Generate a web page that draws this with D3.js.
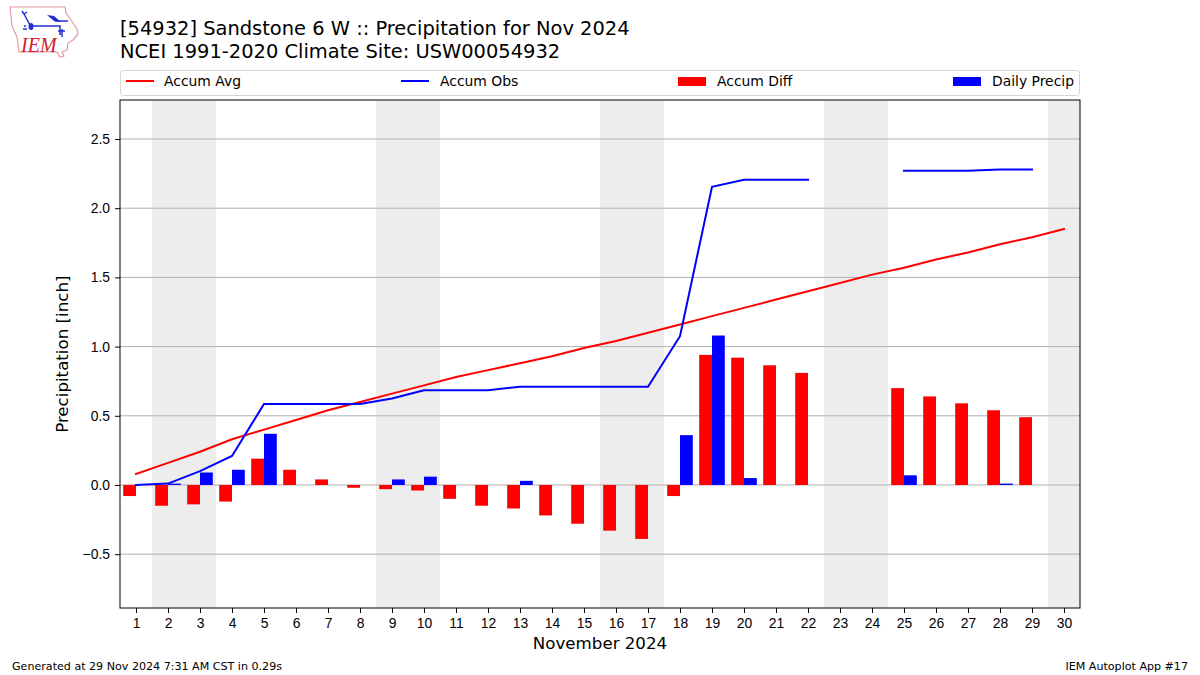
<!DOCTYPE html>
<html>

<head>
    <meta charset="utf-8">
    <style>
        body {
            margin: 0;
            background: #fff;
        }

        svg {
            display: block;
            font-family: 'DejaVu Sans', sans-serif;
        }

        .title {
            font-size: 19.45px;
        }

        .tick text {
            font-size: 13.9px;
            fill: #000;
        }

        .tick line {
            stroke: #000;
        }

        .domain {
            display: none;
        }

        .grid line {
            stroke: #b0b0b0;
            stroke-width: 1;
        }

        .axis-label {
            font-size: 16.67px;
        }

        .legend-text {
            font-size: 13.9px;
        }

        .footer {
            font-size: 11.1px;
        }
    </style>
</head>

<body>
    <svg width="1200" height="675"></svg>

    <script src="https://d3js.org/d3.v7.min.js"></script>
    <script>
        let days = [1, 2, 3, 4, 5, 6, 7, 8, 9, 10, 11, 12, 13, 14, 15, 16, 17, 18, 19, 20, 21, 22, 23, 24, 25, 26, 27, 28, 29, 30]

        let accumAvg = [0.08, 0.16, 0.24, 0.33, 0.40, 0.47, 0.54, 0.60, 0.66, 0.72, 0.78, 0.83, 0.88, 0.93, 0.99,
            1.04, 1.10, 1.16, 1.22, 1.28, 1.34, 1.40, 1.46, 1.52, 1.57, 1.63, 1.68, 1.74, 1.79, 1.85]

        let accumObs = [0.00, 0.01, 0.10, 0.21, 0.585, 0.585, 0.585, 0.585, 0.625, 0.685, 0.685, 0.685, 0.71, 0.71, 0.71,
            0.71, 0.71, 1.075, 2.155, 2.205, 2.205, 2.205, null, null, 2.27, 2.27, 2.27, 2.28, 2.28, null]

        let accumDiff = [-0.08, -0.15, -0.14, -0.12, 0.19, 0.11, 0.04, -0.02, -0.03, -0.04, -0.10, -0.15, -0.17, -0.22, -0.28,
            -0.33, -0.39, -0.08, 0.94, 0.92, 0.865, 0.81, null, null, 0.70, 0.64, 0.59, 0.54, 0.49, null]

        let dailyPrecip = [0.00, 0.01, 0.09, 0.11, 0.37, 0, 0, 0, 0.04, 0.06, 0, 0, 0.03, 0, 0,
            0, 0, 0.36, 1.08, 0.05, 0, 0, null, null, 0.07, 0, 0, 0.01, 0, null]

        let weekendDays = [2, 3, 9, 10, 16, 17, 23, 24, 30]

        let yTicks = [-0.5, 0, 0.5, 1, 1.5, 2, 2.5]

        let titleLines = ["[54932] Sandstone 6 W :: Precipitation for Nov 2024", "NCEI 1991-2020 Climate Site: USW00054932"]

        let margin = { top: 100, right: 120, bottom: 67, left: 120 }
        let width = 1200
        let height = 675

        let svg = d3.select("svg")

        let x = d3.scaleLinear()
            .domain([0.5, 30.5])
            .range([margin.left, width - margin.right])

        let y = d3.scaleLinear()
            .domain([-0.889, 2.782])
            .range([height - margin.bottom, margin.top])

        let barWidth = x(1.4) - x(1)

        // weekend shading
        svg.append("g")
            .selectAll("rect")
            .data(weekendDays)
            .join("rect")
            .attr("x", d => x(d - 0.5))
            .attr("y", margin.top)
            .attr("width", d => x(d + 0.5) - x(d - 0.5))
            .attr("height", height - margin.bottom - margin.top)
            .attr("fill", "#ededed")
            .attr("shape-rendering", "crispEdges")

        // grid
        svg.append("g")
            .attr("class", "grid")
            .selectAll("line")
            .data(yTicks)
            .join("line")
            .attr("x1", margin.left)
            .attr("x2", width - margin.right)
            .attr("y1", d => y(d))
            .attr("y2", d => y(d))

        // bars
        let diffData = days.map((d, i) => ({ day: d, value: accumDiff[i] })).filter(d => d.value !== null)
        let dailyData = days.map((d, i) => ({ day: d, value: dailyPrecip[i] })).filter(d => d.value)

        svg.append("g")
            .selectAll("rect")
            .data(diffData)
            .join("rect")
            .attr("x", d => x(d.day) - barWidth)
            .attr("width", barWidth)
            .attr("y", d => y(Math.max(0, d.value)))
            .attr("height", d => Math.abs(y(d.value) - y(0)))
            .attr("fill", "#ff0000")

        svg.append("g")
            .selectAll("rect")
            .data(dailyData)
            .join("rect")
            .attr("x", d => x(d.day))
            .attr("width", barWidth)
            .attr("y", d => y(d.value))
            .attr("height", d => y(0) - y(d.value))
            .attr("fill", "#0000ff")

        // lines
        let line = d3.line()
            .defined(d => d.value !== null)
            .x(d => x(d.day))
            .y(d => y(d.value))

        svg.append("path")
            .datum(days.map((d, i) => ({ day: d, value: accumAvg[i] })))
            .attr("fill", "none")
            .attr("stroke", "#ff0000")
            .attr("stroke-width", 2)
            .attr("stroke-linecap", "square")
            .attr("d", line)

        svg.append("path")
            .datum(days.map((d, i) => ({ day: d, value: accumObs[i] })))
            .attr("fill", "none")
            .attr("stroke", "#0000ff")
            .attr("stroke-width", 2)
            .attr("stroke-linecap", "square")
            .attr("d", line)

        // axes
        let xAxis = d3.axisBottom(x)
            .tickValues(days)
            .tickFormat(d3.format("d"))
            .tickSize(5)
            .tickPadding(5)

        svg.append("g")
            .attr("transform", `translate(0,${height - margin.bottom})`)
            .call(xAxis)

        let yAxis = d3.axisLeft(y)
            .tickValues(yTicks)
            .tickFormat(d3.format(".1f"))
            .tickSize(5)
            .tickPadding(5)

        svg.append("g")
            .attr("transform", `translate(${margin.left},0)`)
            .call(yAxis)
            .call(g => g.selectAll("text").text(d => d3.format(".1f")(d).replace("-", "\u2212")))

        svg.append("rect")
            .attr("x", margin.left)
            .attr("y", margin.top)
            .attr("width", width - margin.left - margin.right)
            .attr("height", height - margin.top - margin.bottom)
            .attr("fill", "none")
            .attr("stroke", "#000")
            .attr("stroke-width", 1)

        svg.append("text")
            .attr("class", "axis-label")
            .attr("x", x(15.5))
            .attr("y", 649)
            .attr("text-anchor", "middle")
            .text("November 2024")

        svg.append("text")
            .attr("class", "axis-label")
            .attr("transform", `translate(68,${y(0.945)}) rotate(-90)`)
            .attr("text-anchor", "middle")
            .text("Precipitation [inch]")

        // titles
        svg.append("g")
            .selectAll("text")
            .data(titleLines)
            .join("text")
            .attr("class", "title")
            .attr("x", 120)
            .attr("y", (d, i) => 35 + i * 22.6)
            .text(d => d)

        // legend
        svg.append("rect")
            .attr("x", 120.5)
            .attr("y", 70.5)
            .attr("width", 959)
            .attr("height", 25)
            .attr("rx", 3)
            .attr("fill", "#fff")
            .attr("stroke", "#d5d5d5")

        let legendItems = [
            { name: "Accum Avg", color: "#ff0000", type: "line", x: 126, textX: 38 },
            { name: "Accum Obs", color: "#0000ff", type: "line", x: 401, textX: 39 },
            { name: "Accum Diff", color: "#ff0000", type: "bar", x: 678, textX: 39 },
            { name: "Daily Precip", color: "#0000ff", type: "bar", x: 953, textX: 39 }
        ]

        let legend = svg.append("g")
            .selectAll("g")
            .data(legendItems)
            .join("g")
            .attr("transform", d => `translate(${d.x},0)`)

        legend.filter(d => d.type == "line")
            .append("line")
            .attr("x2", 28)
            .attr("y1", 81)
            .attr("y2", 81)
            .attr("stroke", d => d.color)
            .attr("stroke-width", 2)

        legend.filter(d => d.type == "bar")
            .append("rect")
            .attr("width", 28)
            .attr("y", 77)
            .attr("height", 9)
            .attr("fill", d => d.color)

        legend.append("text")
            .attr("class", "legend-text")
            .attr("x", d => d.textX)
            .attr("y", 86)
            .text(d => d.name)

        // footer
        svg.append("text")
            .attr("class", "footer")
            .attr("x", 12)
            .attr("y", 670)
            .text("Generated at 29 Nov 2024 7:31 AM CST in 0.29s")

        svg.append("text")
            .attr("class", "footer")
            .attr("x", 1188)
            .attr("y", 670)
            .attr("text-anchor", "end")
            .text("IEM Autoplot App #17")

        // logo
        let logo = svg.append("g")

        logo.append("path")
            .attr("d", "M10,7 L65,7 L66,13 L71,20 L77,29 L78,34 L73,40 L68,43 L67,50 L62,52 L64,56 L60,57 L57,52 L19,52 L17,37 L12,26 L11,16 Z")
            .attr("fill", "none")
            .attr("stroke", "#e49aa0")
            .attr("stroke-width", 1.2)

        logo.append("path")
            .attr("d", "M31,26 L60,26 L60,35 M31,27 L24,14 M24,14 L22,11 M24,14 L27,12 M55,21 L68,21 M62,29 L62,37 M58,31 L65,31")
            .attr("fill", "none")
            .attr("stroke", "#2030d0")
            .attr("stroke-width", 1.5)

        logo.append("path")
            .attr("d", "M47,15 L54,16 L61,22 L54,21 Z")
            .attr("fill", "#2030d0")

        logo.append("ellipse")
            .attr("cx", 31)
            .attr("cy", 26.5)
            .attr("rx", 2.5)
            .attr("ry", 3.5)
            .attr("fill", "#2030d0")

        logo.append("path")
            .attr("d", "M23,29 L27,29 M25,25 L25,27")
            .attr("fill", "none")
            .attr("stroke", "#2030d0")
            .attr("stroke-width", 1.5)

        logo.append("text")
            .attr("x", 21)
            .attr("y", 52)
            .attr("fill", "#d02030")
            .style("font-family", "'Liberation Serif', serif")
            .style("font-style", "italic")
            .style("font-size", "20px")
            .text("IEM")
    </script>
</body>

</html>
